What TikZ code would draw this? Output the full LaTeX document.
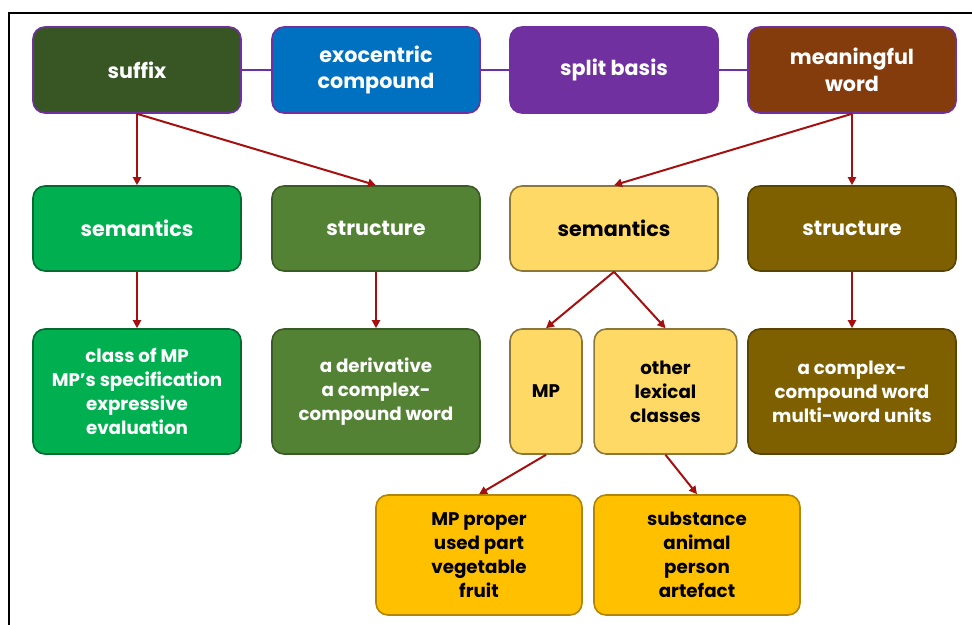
\documentclass[tikz,border=0pt]{standalone}
\usepackage{fontspec}
\setmainfont{Poppins}
\usetikzlibrary{arrows.meta}
\definecolor{cSuffix}{HTML}{375623}
\definecolor{cExo}{HTML}{0070C0}
\definecolor{cSplit}{HTML}{7030A0}
\definecolor{cMean}{HTML}{843C0C}
\definecolor{cPurple}{HTML}{7030A0}
\definecolor{cGreen}{HTML}{00B050}
\definecolor{cOlive}{HTML}{548235}
\definecolor{cLight}{HTML}{FFD966}
\definecolor{cBrown}{HTML}{7F6000}
\definecolor{cGold}{HTML}{FFC000}
\definecolor{cArrow}{HTML}{A50F0F}
\begin{document}
\begin{tikzpicture}[x=0.75pt,y=-0.75pt,
  box/.style={rectangle, rounded corners=9pt, align=center, inner sep=2pt,
    line width=1.2pt, font=\bfseries\fontsize{15.5}{20}\selectfont},
  small/.style={font=\bfseries\fontsize{13.7}{18}\selectfont},
  topbox/.style={box, draw=cPurple, text=white, minimum width=156pt, minimum height=64.5pt},
  midbox/.style={box, minimum height=63.75pt},
  lowbox/.style={box, small, minimum height=93.75pt},
  botbox/.style={box, small, minimum height=90pt, minimum width=154.5pt, fill=cGold, draw=cGold!70!black, text=black},
  link/.style={draw=cPurple, line width=1.5pt},
  arr/.style={draw=cArrow, line width=1.5pt, -{Triangle[length=6pt,width=6pt]}}
]
\useasboundingbox (0,0) rectangle (972,625);
\draw[line width=1.5pt] (9,625) -- (9,13) -- (972,13);

% top row
\node[topbox, fill=cSuffix] (suffix) at (137,70) {suffix};
\node[topbox, fill=cExo] (exo) at (376,70) {exocentric\\compound};
\node[topbox, fill=cSplit] (split) at (614,70) {split basis};
\node[topbox, fill=cMean] (mean) at (852,70) {meaningful\\word};

% second row
\node[midbox, minimum width=156pt, fill=cGreen, draw=cGreen!60!black, text=white] (semA) at (137,228.5) {semantics};
\node[midbox, minimum width=156pt, fill=cOlive, draw=cOlive!70!black, text=white] (strA) at (376,228.5) {structure};
\node[midbox, minimum width=156pt, fill=cLight, draw=cLight!55!black, text=black] (semB) at (614,228.5) {semantics};
\node[midbox, minimum width=156pt, fill=cBrown, draw=cBrown!70!black, text=white] (strB) at (852,228.5) {structure};

% third row
\node[lowbox, minimum width=156pt, fill=cGreen, draw=cGreen!60!black, text=white] (cls) at (137,391.5) {class of MP\\MP's specification\\expressive\\evaluation};
\node[lowbox, minimum width=156pt, fill=cOlive, draw=cOlive!70!black, text=white] (der) at (376,391.5) {a derivative\\a complex-\\compound word};
\node[lowbox, minimum width=54pt, fill=cLight, draw=cLight!55!black, text=black] (mp) at (546,391.5) {MP};
\node[lowbox, minimum width=107pt, fill=cLight, draw=cLight!55!black, text=black] (oth) at (665.5,391.5) {other\\lexical\\classes};
\node[lowbox, minimum width=156pt, fill=cBrown, draw=cBrown!70!black, text=white] (cmp) at (852,391.5) {a complex-\\compound word\\multi-word units};

% fourth row
\node[botbox] (mpp) at (479,555) {MP proper\\used part\\vegetable\\fruit};
\node[botbox] (sub) at (697,555) {substance\\animal\\person\\artefact};

% purple links
\draw[link] (suffix) -- (exo);
\draw[link] (exo) -- (split);
\draw[link] (split) -- (mean);

% arrows
\draw[arr] (suffix.south) -- (semA.north);
\draw[arr] (suffix.south) -- (strA.north);
\draw[arr] (mean.south) -- (semB.north);
\draw[arr] (mean.south) -- (strB.north);
\draw[arr] (semA.south) -- (cls.north);
\draw[arr] (strA.south) -- (der.north);
\draw[arr] (semB.south) -- (mp.north);
\draw[arr] (semB.south) -- (oth.north);
\draw[arr] (strB.south) -- (cmp.north);
\draw[arr] (mp.south) -- (mpp.north);
\draw[arr] (oth.south) -- (sub.north);
\end{tikzpicture}
\end{document}
